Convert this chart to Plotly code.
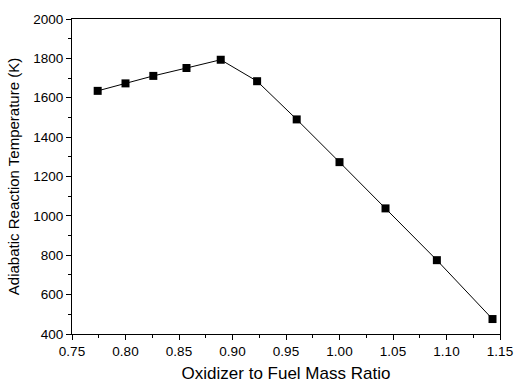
import plotly.graph_objects as go

ratio = [0.774, 0.800, 0.826, 0.857, 0.889, 0.923, 0.960, 1.000, 1.043, 1.091, 1.143]
temperature = [1635, 1673, 1711, 1751, 1793, 1684, 1490, 1273, 1038, 775, 476]
x_ticks = [0.75, 0.80, 0.85, 0.90, 0.95, 1.00, 1.05, 1.10, 1.15]
y_ticks = [400, 600, 800, 1000, 1200, 1400, 1600, 1800, 2000]

fig = go.Figure()
fig.add_trace(go.Scatter(
    x=ratio, y=temperature, mode="lines+markers",
    line=dict(color="black", width=1),
    marker=dict(symbol="square", size=8, color="black"),
    showlegend=False,
))

font = dict(family="Liberation Sans, Arial, sans-serif", color="black")
fig.update_layout(
    width=525, height=391,
    margin=dict(l=72, r=14, t=16, b=52),
    paper_bgcolor="white", plot_bgcolor="white",
    font=dict(size=13.5, **font),
)
fig.update_xaxes(
    range=[0.75, 1.15], tickvals=x_ticks,
    ticktext=[f"{v:.2f}" for v in x_ticks],
    ticks="outside", ticklen=5, tickwidth=1, tickcolor="black",
    minor=dict(ticks="outside", ticklen=3, tickwidth=1, tickcolor="black", dtick=0.025),
    showline=True, linecolor="black", linewidth=1.2, mirror=True,
    showgrid=False, zeroline=False,
    title=dict(text="Oxidizer to Fuel Mass Ratio", font=dict(size=17, **font), standoff=8),
    tickfont=dict(size=13.5, **font),
)
fig.update_yaxes(
    range=[400, 2000], tickvals=y_ticks,
    ticks="outside", ticklen=5, tickwidth=1, tickcolor="black",
    minor=dict(ticks="outside", ticklen=3, tickwidth=1, tickcolor="black", dtick=100),
    showline=True, linecolor="black", linewidth=1.2, mirror=True,
    showgrid=False, zeroline=False,
    title=dict(text="Adiabatic Reaction Temperature (K)", font=dict(size=15, **font), standoff=9),
    tickfont=dict(size=13.5, **font),
)

fig.write_html("out.html")
